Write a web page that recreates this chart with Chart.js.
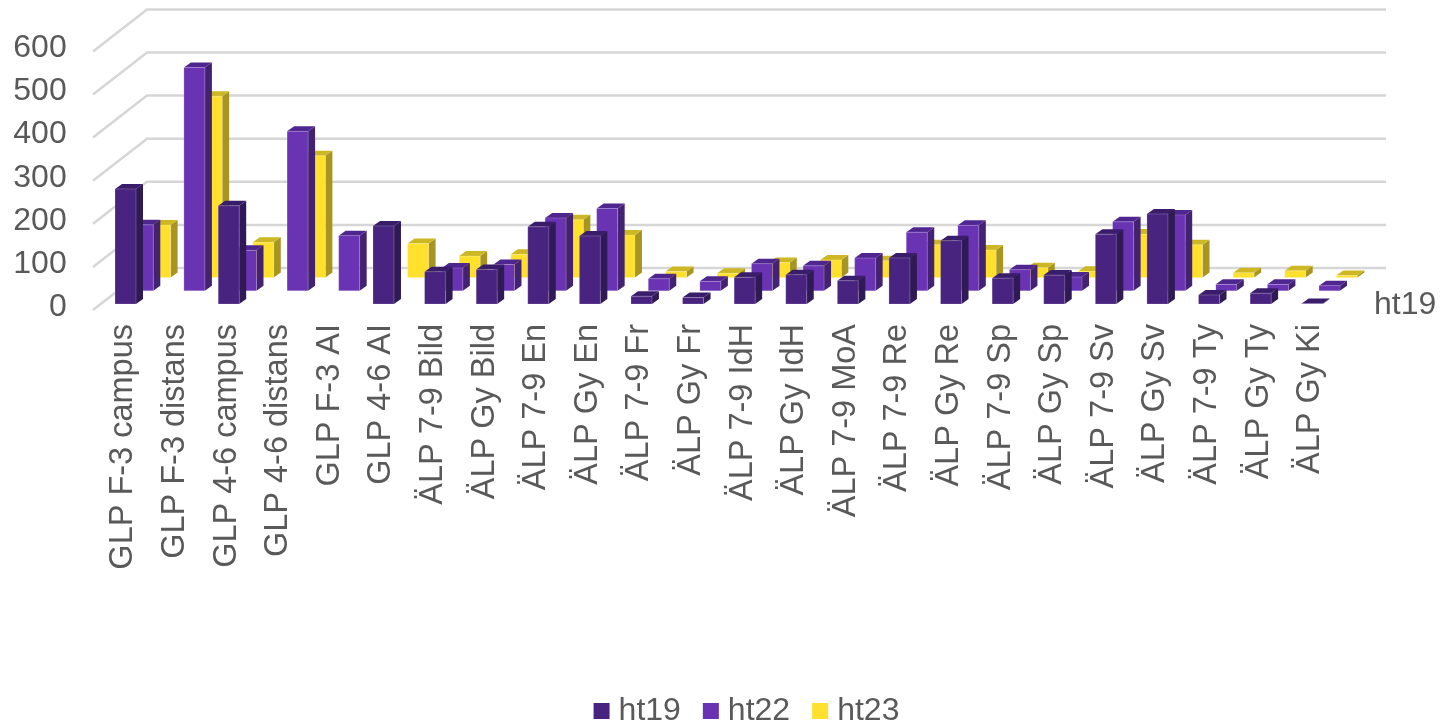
<!DOCTYPE html>
<html>
<head>
<meta charset="utf-8">
<title>ht19 ht22 ht23</title>
<style>
  html, body { margin: 0; padding: 0; background: #fff; }
  canvas { display: block; }
</style>
<script src="https://cdn.jsdelivr.net/npm/chart.js@4/dist/chart.umd.min.js"></script>
</head>
<body>
<canvas id="chart" width="1441" height="727"></canvas>
<script>
const categories = [
  'GLP F-3 campus', 'GLP F-3 distans', 'GLP 4-6 campus', 'GLP 4-6 distans', 'GLP F-3 AI', 'GLP 4-6 AI',
  'ÄLP 7-9 Bild', 'ÄLP Gy Bild', 'ÄLP 7-9 En', 'ÄLP Gy En', 'ÄLP 7-9 Fr', 'ÄLP Gy Fr',
  'ÄLP 7-9 IdH', 'ÄLP Gy IdH', 'ÄLP 7-9 MoA', 'ÄLP 7-9 Re', 'ÄLP Gy Re', 'ÄLP 7-9 Sp',
  'ÄLP Gy Sp', 'ÄLP 7-9 Sv', 'ÄLP Gy Sv', 'ÄLP 7-9 Ty', 'ÄLP Gy Ty', 'ÄLP Gy Ki'
];
const ht19 = [267, null, 228, null, null, 181, 75, 80, 179, 158, 18, 15, 62, 68, 54, 107, 147, 60, 67, 162, 209, 21, 25, 1];
const ht22 = [153, 518, 94, 370, 128, null, 53, 61, 169, 191, 28, 22, 63, 58, 76, 136, 152, 49, 32, 160, 176, 15, 15, 12];
const ht23 = [122, 421, 82, 283, null, 79, 50, 54, 134, 99, 14, 10, 35, 41, 39, 76, 64, 23, 15, 101, 76, 11, 16, 5];
const seriesNames = ['ht19', 'ht22', 'ht23'];
const yTicks = [0, 100, 200, 300, 400, 500, 600];

const FONT = '"Liberation Sans", Arial, sans-serif';
const TEXT = '#595959';

// front, side, top colour per series
const shades = [
  ['#482480', '#2f1a55', '#3a1d6a'],
  ['#6a33b3', '#432173', '#4f2590'],
  ['#ffe12d', '#a89420', '#cdb722']
];

// 3D look, all in pixels on top of what the scales give
const LAYER_X = 17.3, LAYER_Y = -13.2;
const SIDE_X = 7, SIDE_Y = -5;

function poly(ctx, pts, fill) {
  ctx.fillStyle = fill;
  ctx.beginPath();
  pts.forEach(function (p, i) {
    if (i === 0) ctx.moveTo(p[0], p[1]);
    else ctx.lineTo(p[0], p[1]);
  });
  ctx.closePath();
  ctx.fill();
}

const wall3d = {
  id: 'wall3d',
  afterLayout(chart) {
    // legend sits off-centre in the original, under the plot plus depth
    chart.legend.left += 81;
    chart.legend.right += 81;
    chart.legend.top += 10;
    chart.legend.bottom += 10;
  },
  beforeDatasetsDraw(chart) {
    const ctx = chart.ctx;
    const y = chart.scales.y;
    ctx.save();
    ctx.strokeStyle = '#d6d6d6';
    ctx.lineWidth = 2.5;
    yTicks.forEach(function (v) {
      const py = y.getPixelForValue(v);
      ctx.beginPath();
      ctx.moveTo(93, py + 6);
      ctx.lineTo(147, py - 36);
      ctx.lineTo(1386, py - 36);
      ctx.stroke();
    });
    ctx.restore();
  },
  afterDraw(chart) {
    // depth axis only has room for its first label
    const ctx = chart.ctx;
    ctx.save();
    ctx.font = '32px ' + FONT;
    ctx.fillStyle = TEXT;
    ctx.textAlign = 'left';
    ctx.textBaseline = 'middle';
    ctx.fillText(seriesNames[0], 1374, chart.scales.y.getPixelForValue(0) + 1);
    ctx.restore();
  }
};

const bars3d = {
  id: 'bars3d',
  beforeDatasetDraw(chart, args) {
    const ctx = chart.ctx;
    const i = args.index;
    const c = shades[i];
    const values = chart.data.datasets[i].data;
    ctx.save();
    args.meta.data.forEach(function (bar, n) {
      if (values[n] === null) return;
      const l = bar.x - bar.width / 2 + LAYER_X * i;
      const r = l + bar.width;
      const t = bar.y + LAYER_Y * i;
      const b = bar.base + LAYER_Y * i;
      poly(ctx, [[r, t], [r + SIDE_X, t + SIDE_Y], [r + SIDE_X, b + SIDE_Y], [r, b]], c[1]);
      poly(ctx, [[l, t], [l + SIDE_X, t + SIDE_Y], [r + SIDE_X, t + SIDE_Y], [r, t]], c[2]);
      poly(ctx, [[l, t], [r, t], [r, b], [l, b]], c[0]);
      // faint light edge on the front face
      ctx.strokeStyle = 'rgba(255,255,255,0.2)';
      ctx.lineWidth = 1;
      ctx.strokeRect(l, t, bar.width, b - t);
    });
    ctx.restore();
    return false;
  }
};

new Chart(document.getElementById('chart'), {
  type: 'bar',
  data: {
    labels: categories,
    datasets: [ht19, ht22, ht23].map(function (values, i) {
      return {
        label: seriesNames[i],
        data: values,
        backgroundColor: shades[i][0],
        borderWidth: 0,
        grouped: false,
        categoryPercentage: 1,
        barPercentage: 0.407
      };
    })
  },
  plugins: [wall3d, bars3d],
  options: {
    responsive: false,
    animation: false,
    layout: { padding: { left: 0, right: 103, top: 45.4, bottom: 0 } },
    plugins: {
      tooltip: { enabled: false },
      legend: {
        position: 'bottom',
        labels: {
          usePointStyle: true,
          pointStyle: 'rect',
          boxWidth: 2,
          boxHeight: 16,
          padding: 29,
          color: TEXT,
          font: { family: FONT, size: 32 }
        }
      }
    },
    scales: {
      x: {
        grid: { display: false },
        border: { display: false },
        afterFit(s) { s.height = 352; },
        ticks: {
          autoSkip: false,
          minRotation: 90,
          maxRotation: 90,
          padding: 12,
          labelOffset: -2,
          color: TEXT,
          font: { family: FONT, size: 32.5 }
        }
      },
      y: {
        min: 0,
        max: 600,
        grid: { display: false },
        border: { display: false },
        afterFit(s) { s.width = 99.7; },
        afterBuildTicks(s) { s.ticks = yTicks.map(function (v) { return { value: v }; }); },
        ticks: {
          padding: 25,
          labelOffset: 3,
          color: TEXT,
          font: { family: FONT, size: 32 }
        }
      }
    }
  }
});
</script>
</body>
</html>
